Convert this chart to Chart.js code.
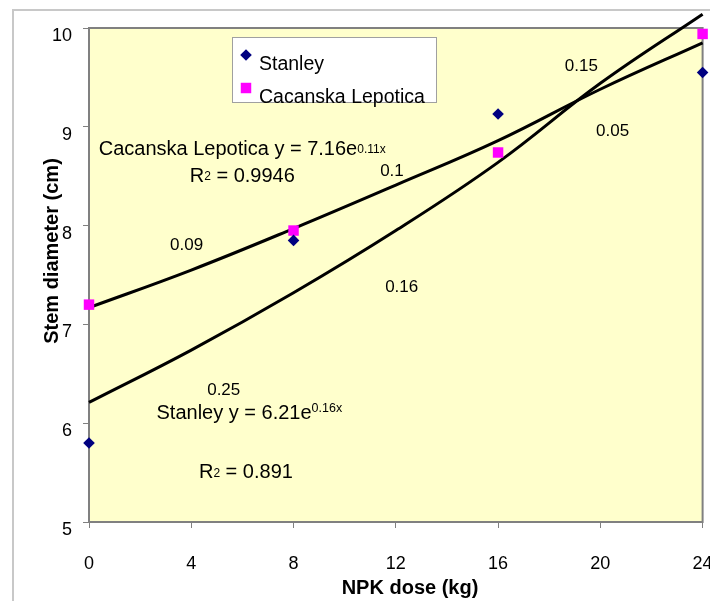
<!DOCTYPE html>
<html>
<head>
<meta charset="utf-8">
<script src="https://cdn.jsdelivr.net/npm/chart.js@4.4.0/dist/chart.umd.min.js"></script>
<style>
  html, body { margin:0; padding:0; background:#fff; overflow:hidden; }
  canvas { display:block; }
</style>
</head>
<body>
<canvas id="stemChart" width="710" height="601"></canvas>
<script>
/* ---------------- data ---------------- */
const seriesNames   = ["Stanley", "Cacanska Lepotica"];
const doses         = [0, 8, 16, 24];
const stanley       = [5.80, 7.85, 9.13, 9.55];
const cacanska      = [7.20, 7.95, 8.74, 9.94];

// fitted exponential trend lines, read at every 4 kg
const trendDoses    = [0, 4, 8, 12, 16, 20, 24];
const stanleyTrend  = [6.21, 6.74, 7.32, 7.95, 8.64, 9.44, 10.14];
const cacanskaTrend = [7.17, 7.55, 7.97, 8.41, 8.86, 9.38, 9.85];

const xTicks = [0, 4, 8, 12, 16, 20, 24];
const yTicks = [5, 6, 7, 8, 9, 10];

const xTitle = "NPK dose (kg)";
const yTitle = "Stem diameter (cm)";

/* ---------------- text notes placed in data units ---------------- */
const FONT = "'Liberation Sans', Arial, sans-serif";

const smallNotes = [
  { x: 19.26, y: 9.61, text: "0.15" },
  { x: 20.48, y: 8.95, text: "0.05" },
  { x: 11.85, y: 8.55, text: "0.1"  },
  { x: 3.82,  y: 7.80, text: "0.09" },
  { x: 12.23, y: 7.38, text: "0.16" },
  { x: 5.27,  y: 6.33, text: "0.25" }
];

// equations: runs of text drawn left to right on one baseline
const equations = [
  { x: 0.38, y: 8.715, runs: [["Cacanska Lepotica y = 7.16e", 20, 0], ["0.11x", 12, -1.5]] },
  { x: 3.94, y: 8.444, runs: [["R", 20, 0], ["2", 12, -1.5], [" = 0.9946", 20, 0]] },
  { x: 2.64, y: 6.039, runs: [["Stanley y = 6.21e", 20, 0], ["0.16x", 12.5, -7.7]] },
  { x: 4.30, y: 5.442, runs: [["R", 20, 0], ["2", 12, -1.5], [" = 0.891", 20, 0]] }
];

const C = {
  navy: "#000080",
  pink: "#FF00FF",
  plot: "#FFFFCC",
  axis: "#808080",
  frame: "#C8C8C8"
};

/* ---------------- plugins ---------------- */
const backdrop = {
  id: 'backdrop',
  beforeDraw(chart){
    const { ctx, chartArea: a } = chart;
    ctx.save();
    ctx.fillStyle = "#fff";
    ctx.fillRect(0, 0, chart.width, chart.height);
    ctx.strokeStyle = C.frame;
    ctx.lineWidth = 2;
    ctx.beginPath();
    ctx.moveTo(13, chart.height);
    ctx.lineTo(13, 10);
    ctx.lineTo(chart.width, 10);
    ctx.stroke();
    ctx.fillStyle = C.plot;
    ctx.fillRect(a.left, a.top, a.width, a.height);
    ctx.restore();
  },
  beforeDatasetsDraw(chart){
    const { ctx, chartArea: a } = chart;
    ctx.save();
    ctx.strokeStyle = C.axis;
    ctx.lineWidth = 2;
    ctx.strokeRect(a.left, a.top, a.width, a.height);
    ctx.restore();
  }
};

const notes = {
  id: 'notes',
  afterDatasetsDraw(chart){
    const { ctx, scales: { x, y } } = chart;
    ctx.save();
    ctx.fillStyle = "#000";
    ctx.font = "17px " + FONT;
    ctx.textAlign = "center";
    ctx.textBaseline = "middle";
    smallNotes.forEach(n => ctx.fillText(n.text, x.getPixelForValue(n.x), y.getPixelForValue(n.y)));

    ctx.textAlign = "left";
    ctx.textBaseline = "alphabetic";
    equations.forEach(eq => {
      let px = x.getPixelForValue(eq.x);
      const py = y.getPixelForValue(eq.y);
      eq.runs.forEach(([txt, size, dy]) => {
        ctx.font = size + "px " + FONT;
        ctx.fillText(txt, px, py + dy);
        px += ctx.measureText(txt).width;
      });
    });
    ctx.restore();
  }
};

const boxLegend = {
  id: 'boxLegend',
  afterDatasetsDraw(chart){
    const { ctx, chartArea: a } = chart;
    const left = a.left + 143, top = a.top + 9;
    ctx.save();
    ctx.fillStyle = "#fff";
    ctx.fillRect(left, top, 204, 65);
    ctx.strokeStyle = "#A0A0A0";
    ctx.lineWidth = 1;
    ctx.strokeRect(left + 0.5, top + 0.5, 204, 65);

    const pts = chart.data.datasets.filter(d => !d.showLine);
    const rows = [27, 60];
    pts.forEach((d, i) => {
      ctx.fillStyle = d.backgroundColor;
      Chart.helpers.drawPoint(ctx, { pointStyle: d.pointStyle, radius: d.pointRadius, rotation: 0, borderWidth: 0 },
        left + 14, top + rows[i] - 9);
      ctx.fillStyle = "#000";
      ctx.font = "19.5px " + FONT;
      ctx.textBaseline = "alphabetic";
      ctx.textAlign = "left";
      ctx.fillText(seriesNames[i], left + 27, top + rows[i] + 6);
    });
    ctx.restore();
  }
};

const axisTitles = {
  id: 'axisTitles',
  afterDraw(chart){
    const { ctx } = chart;
    ctx.save();
    ctx.fillStyle = "#000";
    ctx.font = "bold 20px " + FONT;
    ctx.textAlign = "center";
    ctx.textBaseline = "middle";
    ctx.fillText(xTitle, 410, 588);
    ctx.translate(52, 251);
    ctx.rotate(-Math.PI / 2);
    ctx.fillText(yTitle, 0, 0);
    ctx.restore();
  }
};

/* ---------------- chart ---------------- */
const toPts = (xs, ys) => xs.map((v, i) => ({ x: v, y: ys[i] }));

const tickFont = { family: FONT, size: 18 };

new Chart(document.getElementById('stemChart'), {
  type: 'scatter',
  data: {
    datasets: [
      {
        label: seriesNames[0] + " trend",
        data: toPts(trendDoses, stanleyTrend),
        showLine: true,
        borderColor: "#000",
        borderWidth: 3,
        pointRadius: 0,
        tension: 0.4,
        clip: false,
        order: 2
      },
      {
        label: seriesNames[1] + " trend",
        data: toPts(trendDoses, cacanskaTrend),
        showLine: true,
        borderColor: "#000",
        borderWidth: 3,
        pointRadius: 0,
        tension: 0.4,
        clip: false,
        order: 2
      },
      {
        label: seriesNames[0],
        data: toPts(doses, stanley),
        pointStyle: 'rectRot',
        pointRadius: 5.8,
        backgroundColor: C.navy,
        borderColor: C.navy,
        borderWidth: 0,
        clip: false,
        order: 1
      },
      {
        label: seriesNames[1],
        data: toPts(doses, cacanska),
        pointStyle: 'rect',
        pointRadius: 7.4,
        backgroundColor: C.pink,
        borderColor: C.pink,
        borderWidth: 0,
        clip: false,
        order: 1
      }
    ]
  },
  options: {
    responsive: false,
    animation: false,
    events: [],
    layout: { padding: { top: 28, right: 5, left: 0, bottom: 0 } },
    plugins: { legend: { display: false }, tooltip: { enabled: false } },
    scales: {
      x: {
        type: 'linear',
        min: 0, max: 24,
        afterBuildTicks: s => { s.ticks = xTicks.map(v => ({ value: v })); },
        afterFit: s => { s.height = 79; s.paddingLeft = 0; s.paddingRight = 0; },
        grid: { drawOnChartArea: false, tickLength: 6, color: C.axis },
        border: { display: false },
        ticks: { font: tickFont, color: "#000", padding: 25, maxRotation: 0, autoSkip: false }
      },
      y: {
        min: 5, max: 10,
        afterBuildTicks: s => { s.ticks = yTicks.map(v => ({ value: v })); },
        afterFit: s => { s.width = 89; s.paddingTop = 0; s.paddingBottom = 0; },
        grid: { drawOnChartArea: false, tickLength: 6, color: C.axis },
        border: { display: false },
        ticks: { font: tickFont, color: "#000", padding: 11, labelOffset: 8 }
      }
    }
  },
  plugins: [backdrop, notes, boxLegend, axisTitles]
});
</script>
</body>
</html>
